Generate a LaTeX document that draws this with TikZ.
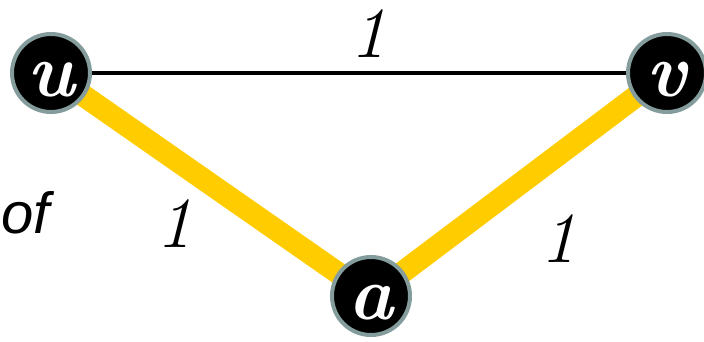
\documentclass[tikz,border=0pt]{standalone}
\usepackage{fontspec}
\usetikzlibrary{backgrounds}
\newfontfamily\ofsans{Liberation Sans}
\definecolor{ringgrey}{HTML}{859C9C}
\definecolor{goldedge}{HTML}{FFCC00}
\begin{document}
\begin{tikzpicture}[x=1pt,y=-1pt,
  vert/.style={circle,fill=black,draw=ringgrey,line width=4pt,minimum size=78pt,inner sep=0pt,text=white,text height=46pt,text depth=0pt,font=\fontsize{76}{76}\selectfont\bfseries\itshape},
  weight/.style={font=\fontsize{72}{72}\selectfont\itshape,inner sep=0pt,anchor=base},
  thinedge/.style={line width=4pt,black},
  treeedge/.style={line width=22pt,goldedge}]
\useasboundingbox (0,0) rectangle (704,341);
\node[vert] (u) at (51,73) {u};
\node[vert] (v) at (667,73) {v};
\node[vert] (a) at (371,296) {a};
\begin{scope}[on background layer]
\draw[treeedge] (u.center) -- (a.center);
\draw[treeedge] (v.center) -- (a.center);
\draw[thinedge] (u) -- (v);
\end{scope}
\node[weight] (w1) at (368,57) {1};
\node[weight] (w2) at (174,247) {1};
\node[weight] (w3) at (558,262) {1};
\node[font=\ofsans\fontsize{58}{58}\selectfont\itshape,inner sep=0pt,anchor=base west] (of) at (1,233) {of};
\end{tikzpicture}
\end{document}
